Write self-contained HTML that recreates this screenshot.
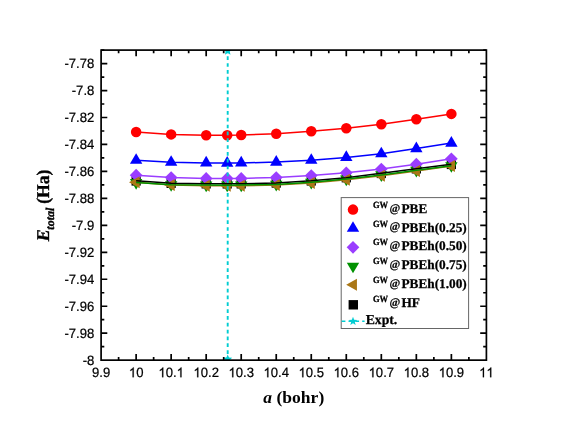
<!DOCTYPE html>
<html><head><meta charset="utf-8"><title>E_total vs a</title>
<style>html,body{margin:0;padding:0;background:#fff}body{width:565px;height:432px;overflow:hidden;font-family:"Liberation Sans",sans-serif}svg{display:block;will-change:transform;opacity:0.9999}</style>
</head><body>
<svg width="565" height="432" viewBox="0 0 565 432">
<rect width="565" height="432" fill="#fff"/>
<rect x="131.53" y="176.4" width="9.2" height="9.2" fill="#000000"/>
<rect x="166.55" y="178.8" width="9.2" height="9.2" fill="#000000"/>
<rect x="201.58" y="179.3" width="9.2" height="9.2" fill="#000000"/>
<rect x="222.6" y="179.35" width="9.2" height="9.2" fill="#000000"/>
<rect x="236.61" y="179.3" width="9.2" height="9.2" fill="#000000"/>
<rect x="271.63" y="178.5" width="9.2" height="9.2" fill="#000000"/>
<rect x="306.66" y="176.4" width="9.2" height="9.2" fill="#000000"/>
<rect x="341.69" y="173.2" width="9.2" height="9.2" fill="#000000"/>
<rect x="376.72" y="168.9" width="9.2" height="9.2" fill="#000000"/>
<rect x="411.74" y="164.3" width="9.2" height="9.2" fill="#000000"/>
<rect x="446.77" y="159.9" width="9.2" height="9.2" fill="#000000"/>
<circle cx="136.13" cy="132" r="5.25" fill="#ff0000"/>
<circle cx="171.15" cy="134.4" r="5.25" fill="#ff0000"/>
<circle cx="206.18" cy="135.2" r="5.25" fill="#ff0000"/>
<circle cx="227.2" cy="135.2" r="5.25" fill="#ff0000"/>
<circle cx="241.21" cy="135" r="5.25" fill="#ff0000"/>
<circle cx="276.24" cy="133.7" r="5.25" fill="#ff0000"/>
<circle cx="311.26" cy="131.2" r="5.25" fill="#ff0000"/>
<circle cx="346.29" cy="128.2" r="5.25" fill="#ff0000"/>
<circle cx="381.32" cy="124.2" r="5.25" fill="#ff0000"/>
<circle cx="416.34" cy="119.2" r="5.25" fill="#ff0000"/>
<circle cx="451.37" cy="113.9" r="5.25" fill="#ff0000"/>
<path d="M136.13 153.17L142.33 163.87L129.93 163.87Z" fill="#0000ff"/>
<path d="M171.15 155.17L177.35 165.87L164.95 165.87Z" fill="#0000ff"/>
<path d="M206.18 155.87L212.38 166.57L199.98 166.57Z" fill="#0000ff"/>
<path d="M227.2 155.97L233.4 166.67L221 166.67Z" fill="#0000ff"/>
<path d="M241.21 155.87L247.41 166.57L235.01 166.57Z" fill="#0000ff"/>
<path d="M276.24 154.97L282.44 165.67L270.04 165.67Z" fill="#0000ff"/>
<path d="M311.26 153.17L317.46 163.87L305.06 163.87Z" fill="#0000ff"/>
<path d="M346.29 150.27L352.49 160.97L340.09 160.97Z" fill="#0000ff"/>
<path d="M381.32 146.67L387.52 157.37L375.12 157.37Z" fill="#0000ff"/>
<path d="M416.34 141.47L422.54 152.17L410.14 152.17Z" fill="#0000ff"/>
<path d="M451.37 135.97L457.57 146.67L445.17 146.67Z" fill="#0000ff"/>
<path d="M136.13 189.63L142.33 178.93L129.93 178.93Z" fill="#009100"/>
<path d="M171.15 191.83L177.35 181.13L164.95 181.13Z" fill="#009100"/>
<path d="M206.18 192.23L212.38 181.53L199.98 181.53Z" fill="#009100"/>
<path d="M227.2 192.28L233.4 181.58L221 181.58Z" fill="#009100"/>
<path d="M241.21 192.23L247.41 181.53L235.01 181.53Z" fill="#009100"/>
<path d="M276.24 191.53L282.44 180.83L270.04 180.83Z" fill="#009100"/>
<path d="M311.26 189.43L317.46 178.73L305.06 178.73Z" fill="#009100"/>
<path d="M346.29 186.23L352.49 175.53L340.09 175.53Z" fill="#009100"/>
<path d="M381.32 182.03L387.52 171.33L375.12 171.33Z" fill="#009100"/>
<path d="M416.34 177.43L422.54 166.73L410.14 166.73Z" fill="#009100"/>
<path d="M451.37 172.83L457.57 162.13L445.17 162.13Z" fill="#009100"/>
<path d="M136.13 168.85L142.48 175.2L136.13 181.55L129.78 175.2Z" fill="#9a3dff"/>
<path d="M171.15 171.25L177.5 177.6L171.15 183.95L164.8 177.6Z" fill="#9a3dff"/>
<path d="M206.18 172.05L212.53 178.4L206.18 184.75L199.83 178.4Z" fill="#9a3dff"/>
<path d="M227.2 172.1L233.55 178.45L227.2 184.8L220.85 178.45Z" fill="#9a3dff"/>
<path d="M241.21 172.05L247.56 178.4L241.21 184.75L234.86 178.4Z" fill="#9a3dff"/>
<path d="M276.24 171.25L282.59 177.6L276.24 183.95L269.88 177.6Z" fill="#9a3dff"/>
<path d="M311.26 169.25L317.61 175.6L311.26 181.95L304.91 175.6Z" fill="#9a3dff"/>
<path d="M346.29 166.45L352.64 172.8L346.29 179.15L339.94 172.8Z" fill="#9a3dff"/>
<path d="M381.32 162.65L387.67 169L381.32 175.35L374.97 169Z" fill="#9a3dff"/>
<path d="M416.34 157.85L422.69 164.2L416.34 170.55L409.99 164.2Z" fill="#9a3dff"/>
<path d="M451.37 152.45L457.72 158.8L451.37 165.15L445.02 158.8Z" fill="#9a3dff"/>
<path d="M128.99 182.3L139.69 176.3L139.69 188.3Z" fill="#aa7716"/>
<path d="M164.02 185L174.72 179L174.72 191Z" fill="#aa7716"/>
<path d="M199.05 185.8L209.75 179.8L209.75 191.8Z" fill="#aa7716"/>
<path d="M220.06 185.85L230.76 179.85L230.76 191.85Z" fill="#aa7716"/>
<path d="M234.07 185.8L244.77 179.8L244.77 191.8Z" fill="#aa7716"/>
<path d="M269.1 184.9L279.8 178.9L279.8 190.9Z" fill="#aa7716"/>
<path d="M304.13 183L314.83 177L314.83 189Z" fill="#aa7716"/>
<path d="M339.16 179.8L349.86 173.8L349.86 185.8Z" fill="#aa7716"/>
<path d="M374.18 175.8L384.88 169.8L384.88 181.8Z" fill="#aa7716"/>
<path d="M409.21 171L419.91 165L419.91 177Z" fill="#aa7716"/>
<path d="M444.24 166L454.94 160L454.94 172Z" fill="#aa7716"/>
<polyline points="136.13,132 171.15,134.4 206.18,135.2 227.2,135.2 241.21,135 276.24,133.7 311.26,131.2 346.29,128.2 381.32,124.2 416.34,119.2 451.37,113.9" fill="none" stroke="#ff0000" stroke-width="1.5" stroke-linejoin="round"/>
<polyline points="136.13,160.3 171.15,162.3 206.18,163 227.2,163.1 241.21,163 276.24,162.1 311.26,160.3 346.29,157.4 381.32,153.8 416.34,148.6 451.37,143.1" fill="none" stroke="#0000ff" stroke-width="1.5" stroke-linejoin="round"/>
<polyline points="136.13,175.2 171.15,177.6 206.18,178.4 227.2,178.45 241.21,178.4 276.24,177.6 311.26,175.6 346.29,172.8 381.32,169 416.34,164.2 451.37,158.8" fill="none" stroke="#9a3dff" stroke-width="1.5" stroke-linejoin="round"/>
<polyline points="136.13,182.3 171.15,185 206.18,185.8 227.2,185.85 241.21,185.8 276.24,184.9 311.26,183 346.29,179.8 381.32,175.8 416.34,171 451.37,166" fill="none" stroke="#aa7716" stroke-width="1.5" stroke-linejoin="round"/>
<polyline points="136.13,180.85 171.15,183.25 206.18,183.75 227.2,183.8 241.21,183.75 276.24,182.95 311.26,180.85 346.29,177.65 381.32,173.35 416.34,168.75 451.37,164.35" fill="none" stroke="#000000" stroke-width="1.5" stroke-linejoin="round"/>
<polyline points="136.13,182.5 171.15,184.7 206.18,185.1 227.2,185.15 241.21,185.1 276.24,184.4 311.26,182.3 346.29,179.1 381.32,174.9 416.34,170.3 451.37,165.7" fill="none" stroke="#009100" stroke-width="1.5" stroke-linejoin="round"/>
<line x1="227.7" y1="50.1" x2="227.7" y2="360.15" stroke="#00cdd2" stroke-width="1.9" stroke-dasharray="3.7 3.135" stroke-dashoffset="0.64"/>
<clipPath id="pc"><rect x="101.1" y="50.1" width="385.3" height="310.05"/></clipPath><g clip-path="url(#pc)"><path d="M227.7 46.2L228.99 49.12L232.17 49.45L229.79 51.58L230.46 54.7L227.7 53.1L224.93 54.7L225.6 51.58L223.23 49.45L226.4 49.12Z" fill="#00cdd2"/><path d="M227.7 354.55L228.99 357.47L232.17 357.8L229.79 359.93L230.46 363.05L227.7 361.45L224.93 363.05L225.6 359.93L223.23 357.8L226.4 357.47Z" fill="#00cdd2"/></g>
<g stroke="#000" stroke-width="1.7" fill="none" stroke-linecap="butt">
<rect x="101.1" y="50.1" width="385.3" height="310.05"/>
<path d="M118.61 360.15v-3.2M118.61 50.1v3.2"/>
<path d="M136.13 360.15v-6.2M136.13 50.1v6.2"/>
<path d="M153.64 360.15v-3.2M153.64 50.1v3.2"/>
<path d="M171.15 360.15v-6.2M171.15 50.1v6.2"/>
<path d="M188.67 360.15v-3.2M188.67 50.1v3.2"/>
<path d="M206.18 360.15v-6.2M206.18 50.1v6.2"/>
<path d="M223.69 360.15v-3.2M223.69 50.1v3.2"/>
<path d="M241.21 360.15v-6.2M241.21 50.1v6.2"/>
<path d="M258.72 360.15v-3.2M258.72 50.1v3.2"/>
<path d="M276.24 360.15v-6.2M276.24 50.1v6.2"/>
<path d="M293.75 360.15v-3.2M293.75 50.1v3.2"/>
<path d="M311.26 360.15v-6.2M311.26 50.1v6.2"/>
<path d="M328.78 360.15v-3.2M328.78 50.1v3.2"/>
<path d="M346.29 360.15v-6.2M346.29 50.1v6.2"/>
<path d="M363.8 360.15v-3.2M363.8 50.1v3.2"/>
<path d="M381.32 360.15v-6.2M381.32 50.1v6.2"/>
<path d="M398.83 360.15v-3.2M398.83 50.1v3.2"/>
<path d="M416.34 360.15v-6.2M416.34 50.1v6.2"/>
<path d="M433.86 360.15v-3.2M433.86 50.1v3.2"/>
<path d="M451.37 360.15v-6.2M451.37 50.1v6.2"/>
<path d="M468.88 360.15v-3.2M468.88 50.1v3.2"/>
<path d="M101.1 346.67h3.2M486.4 346.67h-3.2"/>
<path d="M101.1 333.19h6.2M486.4 333.19h-6.2"/>
<path d="M101.1 319.71h3.2M486.4 319.71h-3.2"/>
<path d="M101.1 306.23h6.2M486.4 306.23h-6.2"/>
<path d="M101.1 292.75h3.2M486.4 292.75h-3.2"/>
<path d="M101.1 279.27h6.2M486.4 279.27h-6.2"/>
<path d="M101.1 265.79h3.2M486.4 265.79h-3.2"/>
<path d="M101.1 252.31h6.2M486.4 252.31h-6.2"/>
<path d="M101.1 238.83h3.2M486.4 238.83h-3.2"/>
<path d="M101.1 225.35h6.2M486.4 225.35h-6.2"/>
<path d="M101.1 211.87h3.2M486.4 211.87h-3.2"/>
<path d="M101.1 198.38h6.2M486.4 198.38h-6.2"/>
<path d="M101.1 184.9h3.2M486.4 184.9h-3.2"/>
<path d="M101.1 171.42h6.2M486.4 171.42h-6.2"/>
<path d="M101.1 157.94h3.2M486.4 157.94h-3.2"/>
<path d="M101.1 144.46h6.2M486.4 144.46h-6.2"/>
<path d="M101.1 130.98h3.2M486.4 130.98h-3.2"/>
<path d="M101.1 117.5h6.2M486.4 117.5h-6.2"/>
<path d="M101.1 104.02h3.2M486.4 104.02h-3.2"/>
<path d="M101.1 90.54h6.2M486.4 90.54h-6.2"/>
<path d="M101.1 77.06h3.2M486.4 77.06h-3.2"/>
<path d="M101.1 63.58h6.2M486.4 63.58h-6.2"/>
<path d="M101.1 50.1h3.2M486.4 50.1h-3.2"/>
</g>
<g font-family="'Liberation Sans', sans-serif" font-size="13.1" fill="#000" stroke="#000" stroke-width="0.22" style="text-rendering:geometricPrecision">
<g transform="translate(101.1 377.25) scale(1 1.04)"><text x="-9.1 -1.82 1.82" y="0">9.9</text></g>
<g transform="translate(136.13 377.25) scale(1 1.04)"><text x="-7.28 0" y="0"> 0</text><path transform="translate(-7.28 0) scale(0.00640 -0.00640)" d="M763 0H583V1147Q518 1085 412.5 1023T223 930V1104Q374 1175 487 1276T647 1472H763Z" stroke-width="34"/></g>
<g transform="translate(171.15 377.25) scale(1 1.04)"><text x="-12.75 -5.46 1.82 5.46" y="0"> 0. </text><path transform="translate(-12.75 0) scale(0.00640 -0.00640)" d="M763 0H583V1147Q518 1085 412.5 1023T223 930V1104Q374 1175 487 1276T647 1472H763Z" stroke-width="34"/><path transform="translate(5.46 0) scale(0.00640 -0.00640)" d="M763 0H583V1147Q518 1085 412.5 1023T223 930V1104Q374 1175 487 1276T647 1472H763Z" stroke-width="34"/></g>
<g transform="translate(206.18 377.25) scale(1 1.04)"><text x="-12.75 -5.46 1.82 5.46" y="0"> 0.2</text><path transform="translate(-12.75 0) scale(0.00640 -0.00640)" d="M763 0H583V1147Q518 1085 412.5 1023T223 930V1104Q374 1175 487 1276T647 1472H763Z" stroke-width="34"/></g>
<g transform="translate(241.21 377.25) scale(1 1.04)"><text x="-12.75 -5.46 1.82 5.46" y="0"> 0.3</text><path transform="translate(-12.75 0) scale(0.00640 -0.00640)" d="M763 0H583V1147Q518 1085 412.5 1023T223 930V1104Q374 1175 487 1276T647 1472H763Z" stroke-width="34"/></g>
<g transform="translate(276.24 377.25) scale(1 1.04)"><text x="-12.75 -5.46 1.82 5.46" y="0"> 0.4</text><path transform="translate(-12.75 0) scale(0.00640 -0.00640)" d="M763 0H583V1147Q518 1085 412.5 1023T223 930V1104Q374 1175 487 1276T647 1472H763Z" stroke-width="34"/></g>
<g transform="translate(311.26 377.25) scale(1 1.04)"><text x="-12.75 -5.46 1.82 5.46" y="0"> 0.5</text><path transform="translate(-12.75 0) scale(0.00640 -0.00640)" d="M763 0H583V1147Q518 1085 412.5 1023T223 930V1104Q374 1175 487 1276T647 1472H763Z" stroke-width="34"/></g>
<g transform="translate(346.29 377.25) scale(1 1.04)"><text x="-12.75 -5.46 1.82 5.46" y="0"> 0.6</text><path transform="translate(-12.75 0) scale(0.00640 -0.00640)" d="M763 0H583V1147Q518 1085 412.5 1023T223 930V1104Q374 1175 487 1276T647 1472H763Z" stroke-width="34"/></g>
<g transform="translate(381.32 377.25) scale(1 1.04)"><text x="-12.75 -5.46 1.82 5.46" y="0"> 0.7</text><path transform="translate(-12.75 0) scale(0.00640 -0.00640)" d="M763 0H583V1147Q518 1085 412.5 1023T223 930V1104Q374 1175 487 1276T647 1472H763Z" stroke-width="34"/></g>
<g transform="translate(416.34 377.25) scale(1 1.04)"><text x="-12.75 -5.46 1.82 5.46" y="0"> 0.8</text><path transform="translate(-12.75 0) scale(0.00640 -0.00640)" d="M763 0H583V1147Q518 1085 412.5 1023T223 930V1104Q374 1175 487 1276T647 1472H763Z" stroke-width="34"/></g>
<g transform="translate(451.37 377.25) scale(1 1.04)"><text x="-12.75 -5.46 1.82 5.46" y="0"> 0.9</text><path transform="translate(-12.75 0) scale(0.00640 -0.00640)" d="M763 0H583V1147Q518 1085 412.5 1023T223 930V1104Q374 1175 487 1276T647 1472H763Z" stroke-width="34"/></g>
<g transform="translate(486.4 377.25) scale(1 1.04)"><path transform="translate(-7.28 0) scale(0.00640 -0.00640)" d="M763 0H583V1147Q518 1085 412.5 1023T223 930V1104Q374 1175 487 1276T647 1472H763Z" stroke-width="34"/><path transform="translate(0 0) scale(0.00640 -0.00640)" d="M763 0H583V1147Q518 1085 412.5 1023T223 930V1104Q374 1175 487 1276T647 1472H763Z" stroke-width="34"/></g>
<text transform="translate(94.3 364.85) scale(1 1.04)" text-anchor="end">-8</text>
<text transform="translate(94.3 337.89) scale(1 1.04)" text-anchor="end">-7.98</text>
<text transform="translate(94.3 310.93) scale(1 1.04)" text-anchor="end">-7.96</text>
<text transform="translate(94.3 283.97) scale(1 1.04)" text-anchor="end">-7.94</text>
<text transform="translate(94.3 257.01) scale(1 1.04)" text-anchor="end">-7.92</text>
<text transform="translate(94.3 230.05) scale(1 1.04)" text-anchor="end">-7.9</text>
<text transform="translate(94.3 203.08) scale(1 1.04)" text-anchor="end">-7.88</text>
<text transform="translate(94.3 176.12) scale(1 1.04)" text-anchor="end">-7.86</text>
<text transform="translate(94.3 149.16) scale(1 1.04)" text-anchor="end">-7.84</text>
<text transform="translate(94.3 122.2) scale(1 1.04)" text-anchor="end">-7.82</text>
<text transform="translate(94.3 95.24) scale(1 1.04)" text-anchor="end">-7.8</text>
<text transform="translate(94.3 68.28) scale(1 1.04)" text-anchor="end">-7.78</text>
</g>
<g font-family="'Liberation Serif', serif" font-weight="bold" fill="#000">
<text x="293.8" y="403.3" font-size="17.55" text-anchor="middle"><tspan font-style="italic">a</tspan> (bohr)</text>
<g style="text-rendering:geometricPrecision" stroke="#000" stroke-width="0.35" stroke-linejoin="round">
<text transform="translate(49.4 241.2) rotate(-90)" font-size="18" font-style="italic">E</text>
<text transform="translate(54.2 229.7) rotate(-90)" font-size="12" font-style="italic">total</text>
<text transform="translate(49.4 203.8) rotate(-90) scale(0.975 1)" font-size="18">(Ha)</text>
</g>
</g>
<rect x="341.2" y="197.6" width="127.4" height="130.9" fill="#fff" stroke="#666" stroke-width="1"/>
<circle cx="353" cy="209.6" r="5.25" fill="#ff0000"/>
<path d="M353 221.17L359.2 231.87L346.8 231.87Z" fill="#0000ff"/>
<path d="M353 240.95L359.35 247.3L353 253.65L346.65 247.3Z" fill="#9a3dff"/>
<path d="M353 273.33L359.2 262.63L346.8 262.63Z" fill="#009100"/>
<path d="M346.22 284.7L356.92 278.7L356.92 290.7Z" fill="#aa7716"/>
<rect x="348.6" y="300.1" width="9.4" height="9.4" fill="#000000"/>
<path d="M341.7 321.25H364.6" stroke="#00cdd2" stroke-width="1.7" fill="none" stroke-dasharray="3.7 3.135"/>
<path d="M353 316.8L354.12 319.86L357.37 319.98L354.81 321.99L355.7 325.12L353 323.3L350.3 325.12L351.19 321.99L348.63 319.98L351.88 319.86Z" fill="#00cdd2"/>
<g font-family="'Liberation Serif', serif" font-weight="bold" fill="#000" font-size="13.3" style="text-rendering:geometricPrecision" stroke="#000" stroke-width="0.25" stroke-linejoin="round">
<text transform="translate(372.9 207.9) scale(0.95 1.05)" font-size="9">GW</text><text transform="translate(389.5 211.6) scale(1.075 1.07)" font-size="10.8" stroke-width="0.15">@</text><text x="401.4" y="212.8">PBE</text>
<text transform="translate(372.9 226.7) scale(0.95 1.05)" font-size="9">GW</text><text transform="translate(389.5 230.4) scale(1.075 1.07)" font-size="10.8" stroke-width="0.15">@</text><text x="401.4" y="231.6">PBEh(0.25)</text>
<text transform="translate(372.9 245.4) scale(0.95 1.05)" font-size="9">GW</text><text transform="translate(389.5 249.1) scale(1.075 1.07)" font-size="10.8" stroke-width="0.15">@</text><text x="401.4" y="250.3">PBEh(0.50)</text>
<text transform="translate(372.9 264.2) scale(0.95 1.05)" font-size="9">GW</text><text transform="translate(389.5 267.9) scale(1.075 1.07)" font-size="10.8" stroke-width="0.15">@</text><text x="401.4" y="269.1">PBEh(0.75)</text>
<text transform="translate(372.9 282.8) scale(0.95 1.05)" font-size="9">GW</text><text transform="translate(389.5 286.5) scale(1.075 1.07)" font-size="10.8" stroke-width="0.15">@</text><text x="401.4" y="287.7">PBEh(1.00)</text>
<text transform="translate(372.9 301.9) scale(0.95 1.05)" font-size="9">GW</text><text transform="translate(389.5 305.6) scale(1.075 1.07)" font-size="10.8" stroke-width="0.15">@</text><text x="401.4" y="306.8">HF</text>
<text x="365.7" y="324.3" font-size="13.7">Expt.</text>
</g>
</svg>
</body></html>
